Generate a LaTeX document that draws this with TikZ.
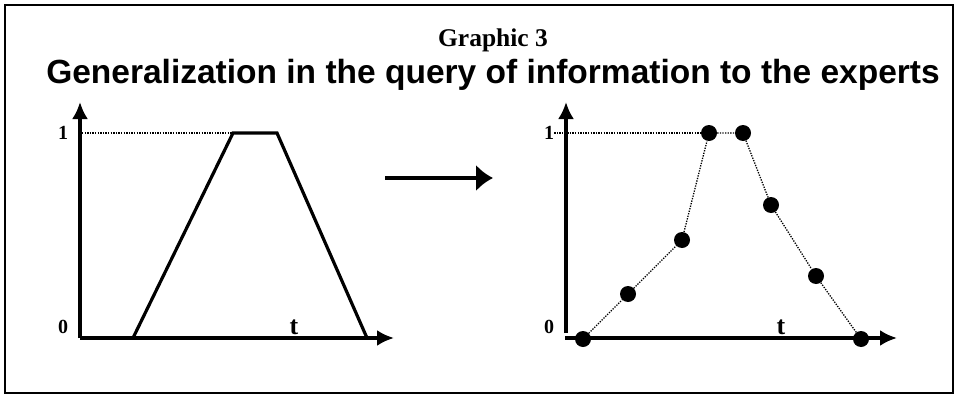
\documentclass[tikz,border=0pt]{standalone}
\usepackage{fontspec}
\setmainfont{Liberation Serif}
\setsansfont{Liberation Sans}
\usetikzlibrary{positioning,arrows.meta,calc}
\tikzset{>=latex}
\tikzset{
  axis/.style={line width=3.2pt,-{Latex[length=17pt,width=16pt]}},
  curve/.style={line width=3.2pt,line join=miter},
  level/.style={line width=1.3pt,dash pattern=on 1.3pt off 1.3pt},
  sample/.style={circle,fill=black,inner sep=0pt,minimum size=16pt},
  numlab/.style={font=\fontsize{20}{20}\selectfont\bfseries,anchor=base,inner sep=0pt},
  tlab/.style={font=\fontsize{26}{26}\selectfont\bfseries,anchor=base,inner sep=0pt}
}

\begin{document}
\begin{tikzpicture}[x=1pt,y=-1pt]
        \useasboundingbox (0,0) rectangle (957,396);
        \draw[line width=1.4pt] (5,5) rectangle (953,393);
        % titles
        \node[font=\fontsize{25.5}{25.5}\selectfont\bfseries,anchor=base,inner sep=0pt] (caption) at (493,47) {Graphic 3};
        \node[font=\sffamily\fontsize{33.5}{33.5}\selectfont\bfseries,anchor=base,inner sep=0pt] (title) at (493,83)
             {Generalization in the query of information to the experts};
        % left graph
        \coordinate (lo) at (80,338);
        \coordinate (ly) at (80,102);
        \coordinate (lx) at (394,338);
        \draw[axis] (lo) -- (ly);
        \draw[axis] (lo) -- (lx);
        \draw[level] (82,133) -- (233,133);
        \draw[curve] (133,338) -- (233,133) -- (277,133) -- (367,338);
        \node[numlab] (lone) at (63,139) {1};
        \node[numlab] (lzero) at (63,333) {0};
        \node[tlab] (lt) at (294,334) {t};
        % middle arrow
        \coordinate (from) at (385,178);
        \coordinate (to) at (493,178);
        \draw[line width=4pt,-{Latex[length=17pt,width=27pt]}] (from) -- (to);
        % right graph
        \coordinate (ro) at (566,333);
        \coordinate (ry) at (566,102);
        \coordinate (rs) at (565,338);
        \coordinate (rx) at (897,338);
        \draw[axis] (ro) -- (ry);
        \draw[axis] (rs) -- (rx);
        \node[numlab] (rone) at (549,139) {1};
        \node[numlab] (rzero) at (549,333) {0};
        \node[tlab] (rt) at (781,334) {t};
        \foreach \name/\x/\y in {p1/583/339,p2/628/294,p3/682/240,p4/709/133,
                                 p5/743/133,p6/771/205,p7/816/276,p8/861/339}
          \node[sample] (\name) at (\x,\y) {};
        \draw[level] (rone.east |- p4) -- (p4);
        \draw[level] (p1) -- (p2) -- (p3) -- (p4) -- (p5) -- (p6) -- (p7) -- (p8);
\end{tikzpicture}
\end{document}
